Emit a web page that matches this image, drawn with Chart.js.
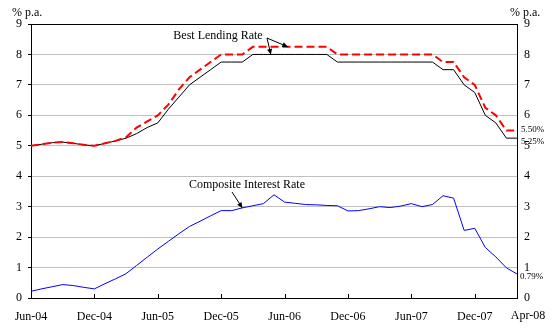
<!DOCTYPE html>
<html>
<head>
<meta charset="utf-8">
<script src="https://cdn.jsdelivr.net/npm/chart.js@4"></script>
<style>
html,body{margin:0;padding:0;background:#fff;}
canvas{display:block;}
</style>
</head>
<body>
<canvas id="c" width="554" height="331"></canvas>
<script>
const months = ['Jun-04','Jul-04','Aug-04','Sep-04','Oct-04','Nov-04','Dec-04','Jan-05','Feb-05','Mar-05','Apr-05','May-05',
  'Jun-05','Jul-05','Aug-05','Sep-05','Oct-05','Nov-05','Dec-05','Jan-06','Feb-06','Mar-06','Apr-06','May-06',
  'Jun-06','Jul-06','Aug-06','Sep-06','Oct-06','Nov-06','Dec-06','Jan-07','Feb-07','Mar-07','Apr-07','May-07',
  'Jun-07','Jul-07','Aug-07','Sep-07','Oct-07','Nov-07','Dec-07','Jan-08','Feb-08','Mar-08','Apr-08'];
const tickLabels = ['Jun-04','Dec-04','Jun-05','Dec-05','Jun-06','Dec-06','Jun-07','Dec-07','Apr-08'];
const blrUpper = [5.0,5.05,5.1,5.12,5.08,5.03,5.0,5.08,5.16,5.28,5.6,5.8,
  6.0,6.35,6.85,7.25,7.5,7.75,8.0,8.0,8.0,8.25,8.25,8.25,
  8.25,8.25,8.25,8.25,8.25,8.0,8.0,8.0,8.0,8.0,8.0,8.0,
  8.0,8.0,8.0,7.75,7.75,7.25,7.0,6.25,6.0,5.5,5.5];
const blrLower = [5.0,5.05,5.1,5.12,5.08,5.03,5.0,5.08,5.16,5.25,5.4,5.6,
  5.75,6.2,6.6,7.0,7.25,7.5,7.75,7.75,7.75,8.0,8.0,8.0,
  8.0,8.0,8.0,8.0,8.0,7.75,7.75,7.75,7.75,7.75,7.75,7.75,
  7.75,7.75,7.75,7.5,7.5,7.0,6.75,6.0,5.75,5.25,5.25];
const composite = [0.22,0.30,0.37,0.44,0.41,0.35,0.30,0.47,0.63,0.80,1.07,1.34,
  1.61,1.86,2.11,2.35,2.52,2.70,2.87,2.87,2.96,3.03,3.10,3.39,
  3.15,3.11,3.07,3.06,3.04,3.03,2.86,2.87,2.93,3.00,2.97,3.02,
  3.10,3.00,3.07,3.36,3.28,2.22,2.29,1.66,1.35,0.99,0.79];
const endLabels = ['5.50%','5.25%','0.79%'];
const yTicks = [0,1,2,3,4,5,6,7,8,9];

const FONT = 'Liberation Serif';
const lastIdx = months.length - 1;

const extras = {
  id: 'extras',
  afterDraw(chart) {
    const ctx = chart.ctx;
    const a = chart.chartArea;
    const xs = chart.scales.x, ys = chart.scales.y;
    ctx.save();
    // top border
    ctx.strokeStyle = '#000'; ctx.lineWidth = 1;
    ctx.beginPath(); ctx.moveTo(a.left, a.top + 0.5); ctx.lineTo(a.right, a.top + 0.5); ctx.stroke();
    // inward x ticks
    months.forEach((m, i) => {
      if (tickLabels.includes(m)) {
        const px = Math.round(xs.getPixelForValue(i)) + 0.5;
        ctx.beginPath(); ctx.moveTo(px, a.bottom); ctx.lineTo(px, a.bottom - 4); ctx.stroke();
      }
    });
    ctx.fillStyle = '#000';
    ctx.font = '12px ' + FONT;
    ctx.textBaseline = 'middle';
    // last x label, shifted right as in the original
    ctx.textAlign = 'center';
    ctx.fillText(months[lastIdx], xs.getPixelForValue(lastIdx) + 11, 316);
    // unit labels
    ctx.textAlign = 'left';
    ctx.fillText('% p.a.', 12, 13);
    ctx.fillText('% p.a.', 510, 13);
    // end labels
    ctx.font = '9px ' + FONT;
    ctx.fillText(endLabels[0], a.right + 4, ys.getPixelForValue(blrUpper[lastIdx]) - 1);
    ctx.fillText(endLabels[1], a.right + 4, ys.getPixelForValue(blrLower[lastIdx]) + 3);
    ctx.fillText(endLabels[2], a.right + 3, ys.getPixelForValue(composite[lastIdx]) + 3);
    // annotations
    function arrow(x1, y1, x2, y2) {
      ctx.beginPath(); ctx.moveTo(x1, y1); ctx.lineTo(x2, y2); ctx.stroke();
      const ang = Math.atan2(y2 - y1, x2 - x1);
      const L = 6, W = 0.45;
      ctx.beginPath();
      ctx.moveTo(x2, y2);
      ctx.lineTo(x2 - L * Math.cos(ang - W), y2 - L * Math.sin(ang - W));
      ctx.lineTo(x2 - L * Math.cos(ang + W), y2 - L * Math.sin(ang + W));
      ctx.closePath(); ctx.fill();
    }
    ctx.font = '12px ' + FONT;
    ctx.textAlign = 'center';
    ctx.fillText('Best Lending Rate', 218, 36);
    ctx.lineWidth = 1;
    arrow(267, 38, xs.getPixelForValue(24.3), ys.getPixelForValue(8.25));
    arrow(267, 38, xs.getPixelForValue(22.7), ys.getPixelForValue(8.0));
    ctx.textAlign = 'left';
    ctx.fillText('Composite Interest Rate', 189, 185);
    arrow(232, 192, xs.getPixelForValue(20), ys.getPixelForValue(2.96));
    ctx.restore();
  }
};

new Chart(document.getElementById('c'), {
  type: 'line',
  data: {
    labels: months,
    datasets: [
      { data: blrUpper, borderColor: '#ff0000', borderWidth: 2, borderDash: [8, 4], pointRadius: 0, tension: 0, yAxisID: 'y' },
      { data: blrLower, borderColor: '#000000', borderWidth: 1, pointRadius: 0, tension: 0, yAxisID: 'y' },
      { data: composite, borderColor: '#0000ff', borderWidth: 1, pointRadius: 0, tension: 0, yAxisID: 'y' }
    ]
  },
  options: {
    responsive: false,
    animation: false,
    devicePixelRatio: 1,
    layout: { padding: { top: 24, left: 0, right: 0, bottom: 0 } },
    plugins: { legend: { display: false }, tooltip: { enabled: false } },
    scales: {
      x: {
        type: 'category',
        offset: false,
        grid: { display: false, drawTicks: false },
        border: { display: true, color: '#000', width: 1 },
        ticks: {
          autoSkip: false, maxRotation: 0, minRotation: 0, padding: 12,
          color: '#000', font: { family: FONT, size: 12 },
          callback: (v, i) => (i !== lastIdx && tickLabels.includes(months[i])) ? months[i] : ''
        },
        afterFit: s => { s.height = 33; }
      },
      y: {
        position: 'left', min: 0, max: 9,
        afterBuildTicks: s => { s.ticks = yTicks.map(v => ({ value: v })); },
        grid: { color: '#c0c0c0', tickColor: '#000', tickLength: 3, lineWidth: 1 },
        border: { color: '#000', width: 1 },
        ticks: { color: '#000', font: { family: FONT, size: 12 }, padding: 6 },
        afterFit: s => { s.width = 31; }
      },
      y2: {
        position: 'right', min: 0, max: 9,
        afterBuildTicks: s => { s.ticks = yTicks.map(v => ({ value: v })); },
        grid: { drawOnChartArea: false, drawTicks: false },
        border: { color: '#000', width: 1 },
        ticks: { color: '#000', font: { family: FONT, size: 12 }, padding: 7 },
        afterFit: s => { s.width = 37; }
      }
    }
  },
  plugins: [extras]
});
</script>
</body>
</html>
